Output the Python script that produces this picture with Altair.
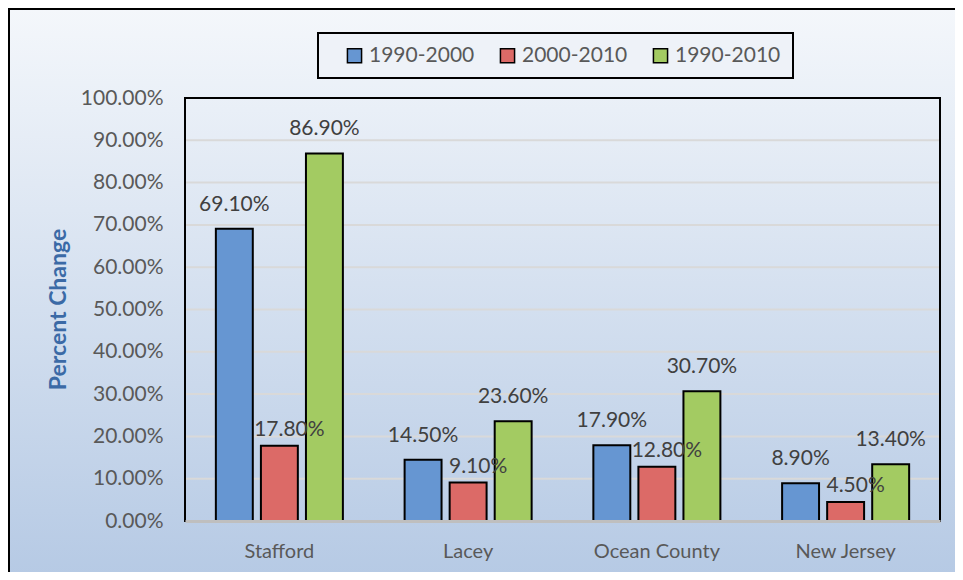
import altair as alt
import pandas as pd

categories = ["Stafford", "Lacey", "Ocean County", "New Jersey"]
periods = ["1990-2000", "2000-2010", "1990-2010"]
v_1990_2000 = [69.1, 14.5, 17.9, 8.9]
v_2000_2010 = [17.8, 9.1, 12.8, 4.5]
v_1990_2010 = [86.9, 23.6, 30.7, 13.4]
y_ticks = [0, 10, 20, 30, 40, 50, 60, 70, 80, 90, 100]
colors = ["#6696d2", "#dc6a67", "#a3cb62"]

rows = []
for series, vals in zip(periods, [v_1990_2000, v_2000_2010, v_1990_2010]):
    for c, v in zip(categories, vals):
        rows.append({"cat": c, "period": series, "v": v})
df = pd.DataFrame(rows)

W, H = 755, 423
FONT = "Lato"

yscale = alt.Scale(domain=[0, 100], nice=False, zero=True)
xscale = alt.Scale(domain=categories, paddingInner=0.327, paddingOuter=0.1635)
oscale = alt.Scale(domain=periods, paddingInner=0.18, paddingOuter=0)

yaxis = alt.Axis(values=y_ticks, labelExpr="format(datum.value/100, '.2%')",
                 domain=False, ticks=False, grid=False,
                 labelFont=FONT, labelFontSize=21, labelColor="#595959",
                 labelPadding=22, title="Percent Change",
                 titleFont=FONT, titleFontSize=23, titleFontWeight="bold",
                 titleColor="#3b6aa6", titleAngle=270,
                 titleX=-127, titleY=211, titleAlign="center",
                 titleBaseline="middle", zindex=1)
xaxis = alt.Axis(domainColor="#bfbfbf", domainWidth=3, ticks=False,
                 labelFont=FONT, labelFontSize=20, labelColor="#595959",
                 labelPadding=20, labelAngle=0, zindex=1)

bg = alt.Chart(pd.DataFrame({"a": [0]})).mark_rect(
    fill=alt.Gradient(
        gradient="linear",
        stops=[alt.GradientStop(color="#f4f7fb", offset=0),
               alt.GradientStop(color="#b2c7e3", offset=1)],
        x1=0, x2=0, y1=0, y2=1),
    stroke="black", strokeWidth=2,
).encode(x=alt.value(-176), x2=alt.value(W + 80), y=alt.value(-89), y2=alt.value(H + 90))

grid = alt.Chart(pd.DataFrame({"t": y_ticks[1:]})).mark_rule(
    color="#d9d9d9", strokeWidth=2
).encode(y=alt.Y("t:Q", scale=yscale, axis=yaxis))

frame = alt.Chart(pd.DataFrame({"a": [0]})).mark_rect(
    fillOpacity=0, stroke="black", strokeWidth=2
).encode(x=alt.value(0), x2=alt.value(W), y=alt.value(0), y2=alt.value(H))

bars = alt.Chart(df).mark_bar(stroke="black", strokeWidth=2).encode(
    x=alt.X("cat:N", sort=categories, scale=xscale, title=None, axis=xaxis),
    xOffset=alt.XOffset("period:N", sort=periods, scale=oscale),
    y=alt.Y("v:Q", scale=yscale, axis=yaxis),
    color=alt.Color("period:N", sort=periods,
                    scale=alt.Scale(domain=periods, range=colors),
                    legend=alt.Legend(orient="none", legendX=133, legendY=-65,
                                      direction="horizontal", title=None,
                                      symbolType="square", symbolSize=200,
                                      symbolStrokeColor="black", symbolStrokeWidth=1.5,
                                      symbolOpacity=1,
                                      labelFont=FONT, labelFontSize=21,
                                      labelColor="#595959", labelOffset=4,
                                      columnPadding=8, symbolOffset=14,
                                      padding=12, strokeColor="black",
                                      fillColor="#eef2f8")),
)

txt_common = dict(fontSize=21, font=FONT, color="#404040", baseline="middle")
enc = dict(
    x=alt.X("cat:N", sort=categories, scale=xscale, title=None, axis=xaxis),
    xOffset=alt.XOffset("period:N", sort=periods, scale=oscale),
    y=alt.Y("v:Q", scale=yscale, axis=yaxis),
    text=alt.Text("lbl:N"),
)
labels_main = alt.Chart(df).transform_filter(
    "datum.period != '2000-2010'"
).transform_calculate(lbl="format(datum.v/100, '.2%')").mark_text(
    dy=-24, **txt_common).encode(**enc)
labels_red = alt.Chart(df).transform_filter(
    "datum.period == '2000-2010'"
).transform_calculate(lbl="format(datum.v/100, '.2%')").mark_text(
    dx=10, dy=-16, **txt_common).encode(**enc)

chart = alt.layer(bg, grid, frame, bars, labels_main, labels_red).properties(
    width=W, height=H,
    autosize=alt.AutoSizeParams(type="none"),
    padding={"left": 177, "top": 90, "right": 15, "bottom": 51},
    background="#b6cae4",
).configure_view(strokeWidth=0).configure_legend(strokeWidth=2)

chart.save("out.html", embed_options={"renderer": "svg", "actions": False})
